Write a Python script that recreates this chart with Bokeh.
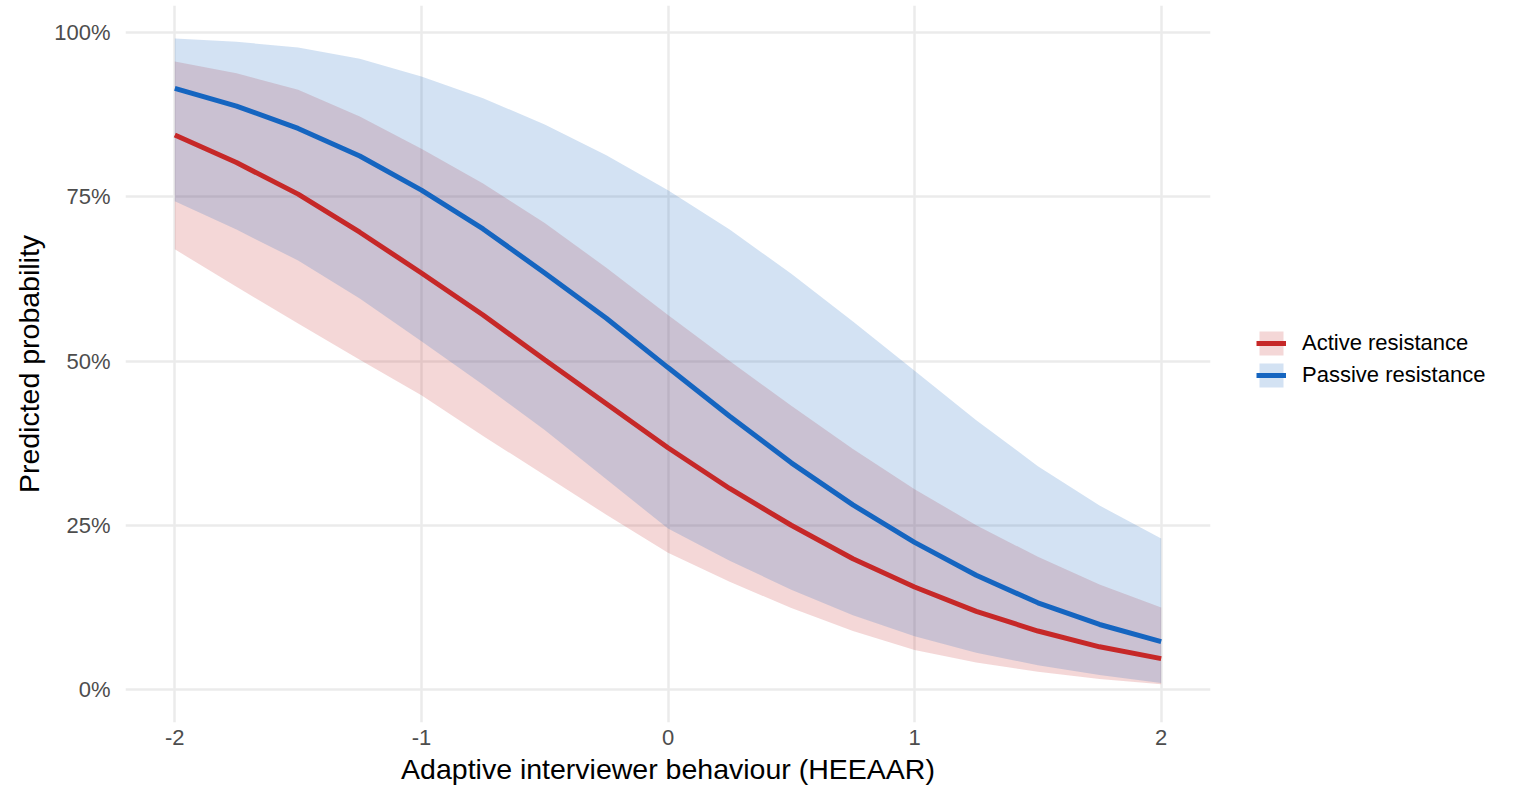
from bokeh.plotting import figure
from bokeh.models import (Range1d, FixedTicker, Legend, LegendItem,
                          ColumnDataSource)
from bokeh.embed import file_html
from bokeh.resources import INLINE

# ---- data ----
x_vals = [-2.0, -1.75, -1.5, -1.25, -1.0, -0.75, -0.5, -0.25, 0.0,
          0.25, 0.5, 0.75, 1.0, 1.25, 1.5, 1.75, 2.0]

active_pred = [84.4, 80.2, 75.4, 69.6, 63.4, 57.0, 50.2, 43.5, 36.8,
               30.6, 25.0, 19.9, 15.6, 11.9, 8.9, 6.5, 4.7]
active_lo = [67.0, 61.3, 55.7, 50.2, 44.8, 38.6, 32.6, 26.6, 20.8,
             16.4, 12.4, 8.9, 6.0, 4.1, 2.7, 1.6, 0.8]
active_hi = [95.6, 93.8, 91.3, 87.2, 82.3, 77.0, 71.0, 64.2, 57.0,
             50.0, 43.2, 36.6, 30.5, 25.0, 20.2, 16.0, 12.5]

passive_pred = [91.5, 88.8, 85.4, 81.2, 76.0, 70.1, 63.4, 56.5, 49.0,
                41.6, 34.5, 28.1, 22.4, 17.4, 13.2, 9.9, 7.3]
passive_lo = [74.3, 70.0, 65.3, 59.5, 53.0, 46.4, 39.5, 32.0, 24.5,
              19.6, 15.2, 11.3, 8.1, 5.6, 3.7, 2.2, 1.0]
passive_hi = [99.1, 98.6, 97.7, 96.0, 93.3, 90.0, 86.0, 81.3, 76.0,
              70.0, 63.3, 56.0, 48.5, 41.0, 34.0, 28.0, 23.0]

series_names = ["Active resistance", "Passive resistance"]
x_ticks = [-2, -1, 0, 1, 2]
x_tick_labels = ["-2", "-1", "0", "1", "2"]
y_ticks = [0, 25, 50, 75, 100]
y_tick_labels = ["0%", "25%", "50%", "75%", "100%"]

RED = "#C62828"
BLUE = "#1565C0"
FONT = "Liberation Sans"

p = figure(frame_width=1085, frame_height=717,
           x_range=Range1d(-2.2, 2.2), y_range=Range1d(-5.02, 104.11),
           output_backend="svg", toolbar_location=None,
           min_border_left=125, min_border_right=290, min_border_top=5,
           min_border_bottom=0)
p.outline_line_color = None
p.background_fill_color = "white"
p.border_fill_color = "white"

src_a = ColumnDataSource(dict(x=x_vals, y=active_pred, lo=active_lo, hi=active_hi))
src_p = ColumnDataSource(dict(x=x_vals, y=passive_pred, lo=passive_lo, hi=passive_hi))

band_a = p.varea(x="x", y1="lo", y2="hi", source=src_a, fill_color=RED, fill_alpha=0.19)
band_p = p.varea(x="x", y1="lo", y2="hi", source=src_p, fill_color=BLUE, fill_alpha=0.19)
line_a = p.line(x="x", y="y", source=src_a, line_color=RED, line_width=5)
line_p = p.line(x="x", y="y", source=src_p, line_color=BLUE, line_width=5)

# axes
for ax in (p.xaxis[0], p.yaxis[0]):
    ax.axis_line_color = None
    ax.major_tick_line_color = None
    ax.minor_tick_line_color = None
    ax.major_tick_in = 0
    ax.major_tick_out = 0
    ax.minor_tick_in = 0
    ax.minor_tick_out = 0
    ax.major_label_text_font = FONT
    ax.major_label_text_font_size = "22px"
    ax.major_label_text_color = "#4D4D4D"
    ax.axis_label_text_font = FONT
    ax.axis_label_text_font_size = "28.5px"
    ax.axis_label_text_font_style = "normal"
    ax.axis_label_text_color = "black"

p.xaxis.ticker = FixedTicker(ticks=x_ticks)
p.xaxis.major_label_overrides = {t: l for t, l in zip(x_ticks, x_tick_labels)}
p.yaxis.ticker = FixedTicker(ticks=y_ticks)
p.yaxis.major_label_overrides = {t: l for t, l in zip(y_ticks, y_tick_labels)}
p.xaxis.axis_label = "Adaptive interviewer behaviour (HEEAAR)"
p.yaxis.axis_label = "Predicted probability"
p.xaxis.major_label_standoff = 7
p.xaxis.axis_label_standoff = 5
p.yaxis.major_label_standoff = 15
p.yaxis.axis_label_standoff = 6

p.xgrid.ticker = FixedTicker(ticks=x_ticks)
p.ygrid.ticker = FixedTicker(ticks=y_ticks)
for g in (p.xgrid[0], p.ygrid[0]):
    g.grid_line_color = "#EBEBEB"
    g.grid_line_width = 2.5

legend = Legend(items=[
    LegendItem(label=series_names[0], renderers=[band_a, line_a]),
    LegendItem(label=series_names[1], renderers=[band_p, line_p]),
], location=(46, 332))
legend.label_text_font = FONT
legend.label_text_font_size = "22px"
legend.label_text_color = "black"
legend.glyph_width = 30
legend.glyph_height = 30
legend.spacing = 2
legend.label_standoff = 16
legend.padding = 10
legend.margin = 0
legend.border_line_color = None
legend.background_fill_alpha = 0
p.add_layout(legend, "right")

open("out.html", "w").write(file_html(p, INLINE))
